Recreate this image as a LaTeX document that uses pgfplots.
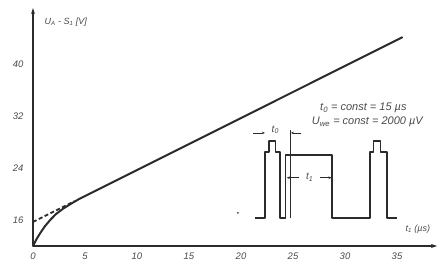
\documentclass[border=0pt]{standalone}
\usepackage{fontspec}
\setmainfont{Liberation Sans}
\usepackage{pgfplots}
\pgfplotsset{compat=1.18}
\usetikzlibrary{arrows.meta}
\definecolor{ink}{HTML}{2B2B2B}
\definecolor{txt}{HTML}{4A4A4A}
\begin{document}
\begin{tikzpicture}
\useasboundingbox (-33pt,-20pt) rectangle (413pt,246pt);
\begin{axis}[
  at={(0,0)}, anchor=south west,
  x=10.4pt, y=6.5pt,
  xmin=0, xmax=38.85, ymin=12, ymax=48.6,
  axis lines=left,
  axis line style={ink, line width=1.3pt, -{Stealth[length=6pt,width=4pt]}},
  xtick={0,5,10,15,20,25,30,35},
  ytick={16,24,32,40},
  major tick length=0pt,
  tick label style={font=\itshape\fontsize{9.5}{10}\selectfont, text=txt},
  xticklabel style={yshift=-3pt},
  yticklabel style={xshift=-6pt},
  /pgf/number format/assume math mode=true,
  clip=false,
]
% main curve
\addplot[ink, line width=2pt, line join=round, line cap=round] coordinates {
 (0,12) (0.3,12.95) (0.7,14.0) (1.15,15.05) (1.65,16.0) (2.2,16.9)
 (2.9,17.75) (3.6,18.45) (4.4,19.2) (35.5,44.1)
};
% dashed extrapolation
\addplot[ink, line width=1.8pt, dash pattern=on 4pt off 2.5pt] coordinates {(0,15.7) (4.0,18.9)};
% speck
\addplot[only marks, mark=*, mark size=0.6pt, ink] coordinates {(19.7,17.1)};
% inset pulse train
\addplot[ink, line width=1.3pt, line join=round] coordinates {
 (21.35,16.3) (22.3,16.3) (22.3,26.46) (22.7,26.46) (22.7,28.15) (23.3,28.15)
 (23.3,26.46) (23.75,26.46) (23.75,16.3) (24.3,16.3) (24.3,26.0) (28.75,26.0)
 (28.75,16.3) (32.4,16.3) (32.4,26.46) (32.75,26.46) (32.75,28.15) (33.4,28.15)
 (33.4,26.46) (34.04,26.46) (34.04,16.3) (35.0,16.3)
};
\addplot[ink, line width=0.6pt] coordinates {(24.7,16.3) (24.7,29.9)};
\addplot[ink, line width=0.7pt, -{Stealth[length=3pt,width=2.5pt]}] coordinates {(21.2,29.4) (22.3,29.4)};
\addplot[ink, line width=0.7pt, -{Stealth[length=3pt,width=2.5pt]}] coordinates {(25.8,29.4) (24.8,29.4)};
\addplot[ink, line width=0.7pt, -{Stealth[length=3pt,width=2.5pt]}] coordinates {(25.6,22.5) (24.4,22.5)};
\addplot[ink, line width=0.7pt, -{Stealth[length=3pt,width=2.5pt]}] coordinates {(27.6,22.5) (28.7,22.5)};
% labels
\node[text=txt, font=\itshape\fontsize{10}{11}\selectfont] at (axis cs:23.3,29.9) {t\textsubscript{0}};
\node[text=txt, font=\itshape\fontsize{10}{11}\selectfont] at (axis cs:26.6,22.6) {t\textsubscript{1}};
\node[text=txt, font=\itshape\fontsize{11}{12}\selectfont, anchor=west, inner sep=0pt] at (axis cs:27.6,33.2) {t\textsubscript{0} = const = 15 µs};
\node[text=txt, font=\itshape\fontsize{11}{12}\selectfont, anchor=west, inner sep=0pt] at (axis cs:26.8,31.1) {U\textsubscript{we} = const = 2000 µV};
\node[text=txt, font=\itshape\fontsize{9}{10}\selectfont, anchor=west, inner sep=0pt] at (axis cs:1.1,46.4) {U\textsubscript{A} - S\textsubscript{1} [V]};
\node[text=txt, font=\itshape\fontsize{9}{10}\selectfont] at (axis cs:37.0,14.6) {t\textsubscript{1} (µs)};
\end{axis}
\end{tikzpicture}
\end{document}
